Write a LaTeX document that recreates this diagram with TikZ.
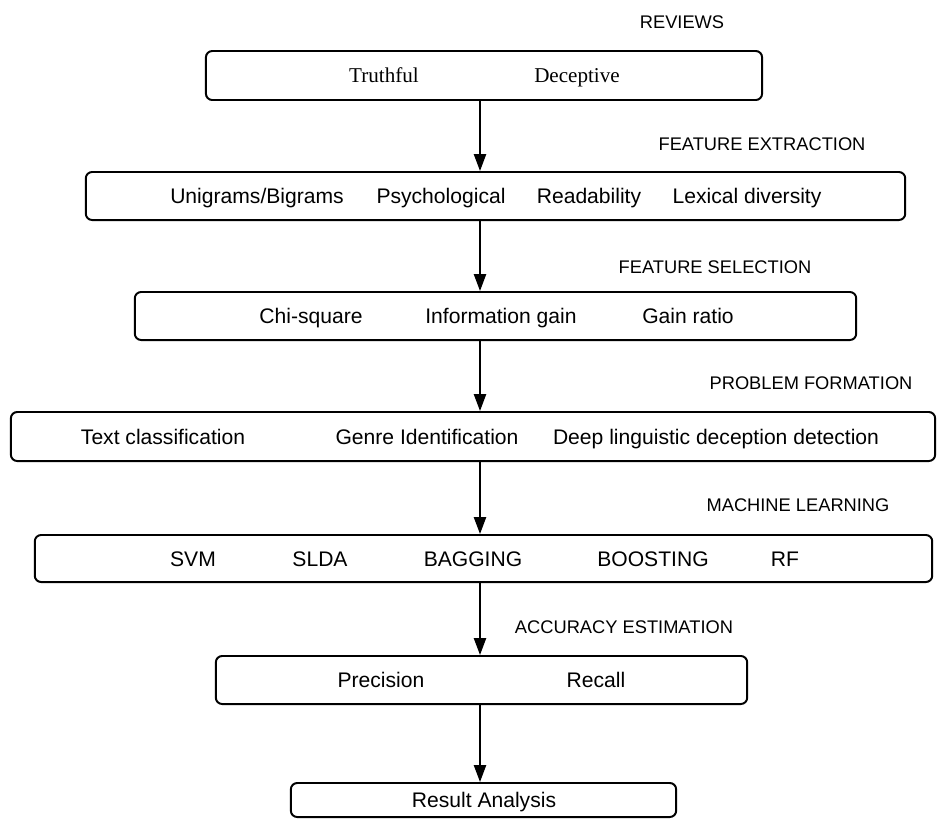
\documentclass[tikz,border=0pt]{standalone}
\usepackage{fontspec}
\setmainfont{Liberation Sans}
\newfontfamily\revfont{Liberation Serif}
\usetikzlibrary{arrows.meta}

\tikzset{
  stage/.style={draw, line width=1.4pt, rounded corners=4.5pt, inner sep=0pt},
  item/.style={inner sep=1pt, text height=10.7pt, text depth=0pt,
    font=\fontsize{15}{18}\selectfont},
  ritem/.style={item, text height=9.9pt, font=\revfont\fontsize{15}{18}\selectfont},
  tag/.style={inner sep=1pt, text height=9.3pt, text depth=0pt,
    font=\fontsize{13}{15}\selectfont},
  flow/.style={line width=1.4pt, -{Triangle[length=4.2mm,width=3mm]}}
}

\begin{document}
\begin{tikzpicture}[x=0.025cm,y=-0.025cm]

 \useasboundingbox (0,0) rectangle (938,818);

 % boxes
 \node[stage, minimum width=13.90cm, minimum height=1.225cm] (rev)  at (484.0,75.5)  {};
 \node[stage, minimum width=20.48cm, minimum height=1.200cm] (fex)  at (495.5,196.0) {};
 \node[stage, minimum width=18.03cm, minimum height=1.200cm] (fsel) at (495.5,316.0) {};
 \node[stage, minimum width=23.10cm, minimum height=1.225cm] (pfor) at (473.0,436.5) {};
 \node[stage, minimum width=22.43cm, minimum height=1.175cm] (ml)   at (483.5,558.5) {};
 \node[stage, minimum width=13.28cm, minimum height=1.200cm] (acc)  at (481.5,680.0) {};
 \node[stage, minimum width=9.63cm,  minimum height=0.850cm] (res)  at (483.5,800.0) {};

 % box contents
 \node[ritem] (truth) at (384,75.5) {Truthful};
 \node[ritem] (decep) at (577,75.5) {Deceptive};

 \node[item] (unibi) at (257,196) {Unigrams/Bigrams};
 \node[item] (psych) at (441,196) {Psychological};
 \node[item] (readb) at (589,196) {Readability};
 \node[item] (lexdv) at (747,196) {Lexical diversity};

 \node[item] (chisq) at (311,316) {Chi-square};
 \node[item] (infog) at (501,316) {Information gain};
 \node[item] (gainr) at (688,316) {Gain ratio};

 \node[item] (textc) at (163,436.5) {Text classification};
 \node[item] (genre) at (427,436.5) {Genre Identification};
 \node[item] (deepl) at (716,436.5) {Deep linguistic deception detection};

 \node[item] (svm)   at (193,558.5) {SVM};
 \node[item] (slda)  at (320,558.5) {SLDA};
 \node[item] (bagg)  at (473,558.5) {BAGGING};
 \node[item] (boost) at (653,558.5) {BOOSTING};
 \node[item] (rf)    at (785,558.5) {RF};

 \node[item] (prec)  at (381,680) {Precision};
 \node[item] (recl)  at (596,680) {Recall};

 \node[item] (resan) at (484,800) {Result Analysis};

 % stage labels
 \node[tag] (lrev)  at (682,22)  {REVIEWS};
 \node[tag] (lfex)  at (762,144) {FEATURE EXTRACTION};
 \node[tag] (lfsel) at (715,267) {FEATURE SELECTION};
 \node[tag] (lpfor) at (811,383) {PROBLEM FORMATION};
 \node[tag] (lml)   at (798,505) {MACHINE LEARNING};
 \node[tag] (lacc)  at (624,627) {ACCURACY ESTIMATION};

 % arrows
 \coordinate (ax) at (480,0);
 \draw[flow] (rev.south -| ax)  -- (fex.north -| ax);
 \draw[flow] (fex.south -| ax)  -- (fsel.north -| ax);
 \draw[flow] (fsel.south -| ax) -- (pfor.north -| ax);
 \draw[flow] (pfor.south -| ax) -- (ml.north -| ax);
 \draw[flow] (ml.south -| ax)   -- (acc.north -| ax);
 \draw[flow] (acc.south -| ax)  -- (res.north -| ax);

\end{tikzpicture}
\end{document}
